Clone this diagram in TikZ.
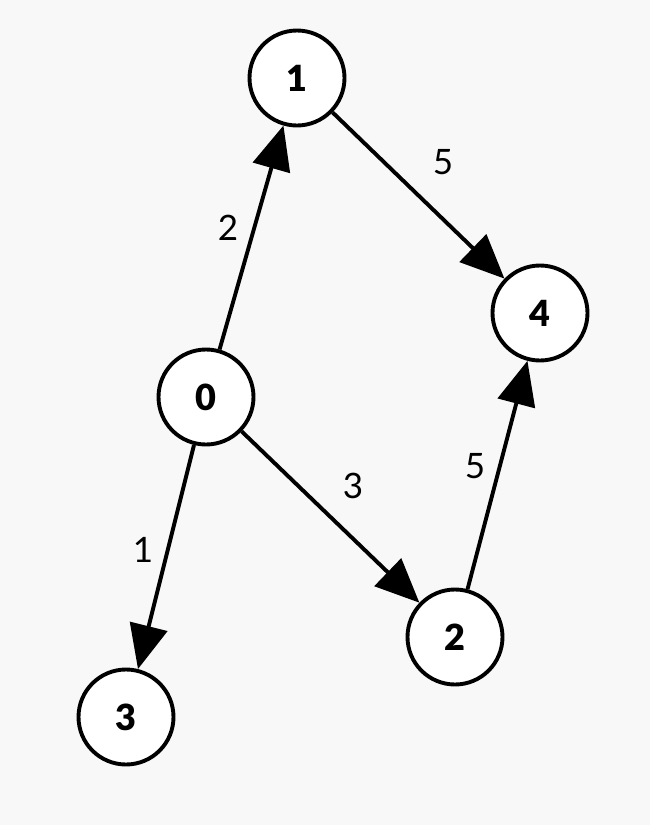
\documentclass[tikz,border=0pt]{standalone}
\usepackage{fontspec}
\setmainfont{Lato}
\newfontfamily\heavyfont{Lato Black}
\usetikzlibrary{arrows.meta}
\definecolor{bg}{HTML}{F8F8F8}
\begin{document}
\begin{tikzpicture}[x=1pt,y=-1pt,
  vert/.style={circle,draw=black,fill=white,line width=3.9pt,minimum size=95pt,inner sep=0pt,font=\fontsize{36}{36}\selectfont\heavyfont},
  edge/.style={line width=3.9pt,-{Triangle[length=44pt,width=38pt]}},
  wlabel/.style={font=\fontsize{35}{35}\selectfont,inner sep=0pt}]
\fill[bg] (0,0) rectangle (650,825);
\useasboundingbox (0,0) rectangle (650,825);
\node[vert] (n1) at (297,78) {1};
\node[vert] (n4) at (540,313) {4};
\node[vert] (n0) at (206,397) {0};
\node[vert] (n2) at (455,637) {2};
\node[vert] (n3) at (126,717) {3};
\draw[edge] (n0) -- (n1);
\draw[edge] (n1) -- (n4);
\draw[edge] (n0) -- (n2);
\draw[edge] (n2) -- (n4);
\draw[edge] (n0) -- (n3);
\node[wlabel] (l01) at (228,228) {2};
\node[wlabel] (l14) at (443,162) {5};
\node[wlabel] (l02) at (353,486) {3};
\node[wlabel] (l24) at (475,466) {5};
\node[wlabel] (l03) at (143,550) {1};
\end{tikzpicture}
\end{document}
